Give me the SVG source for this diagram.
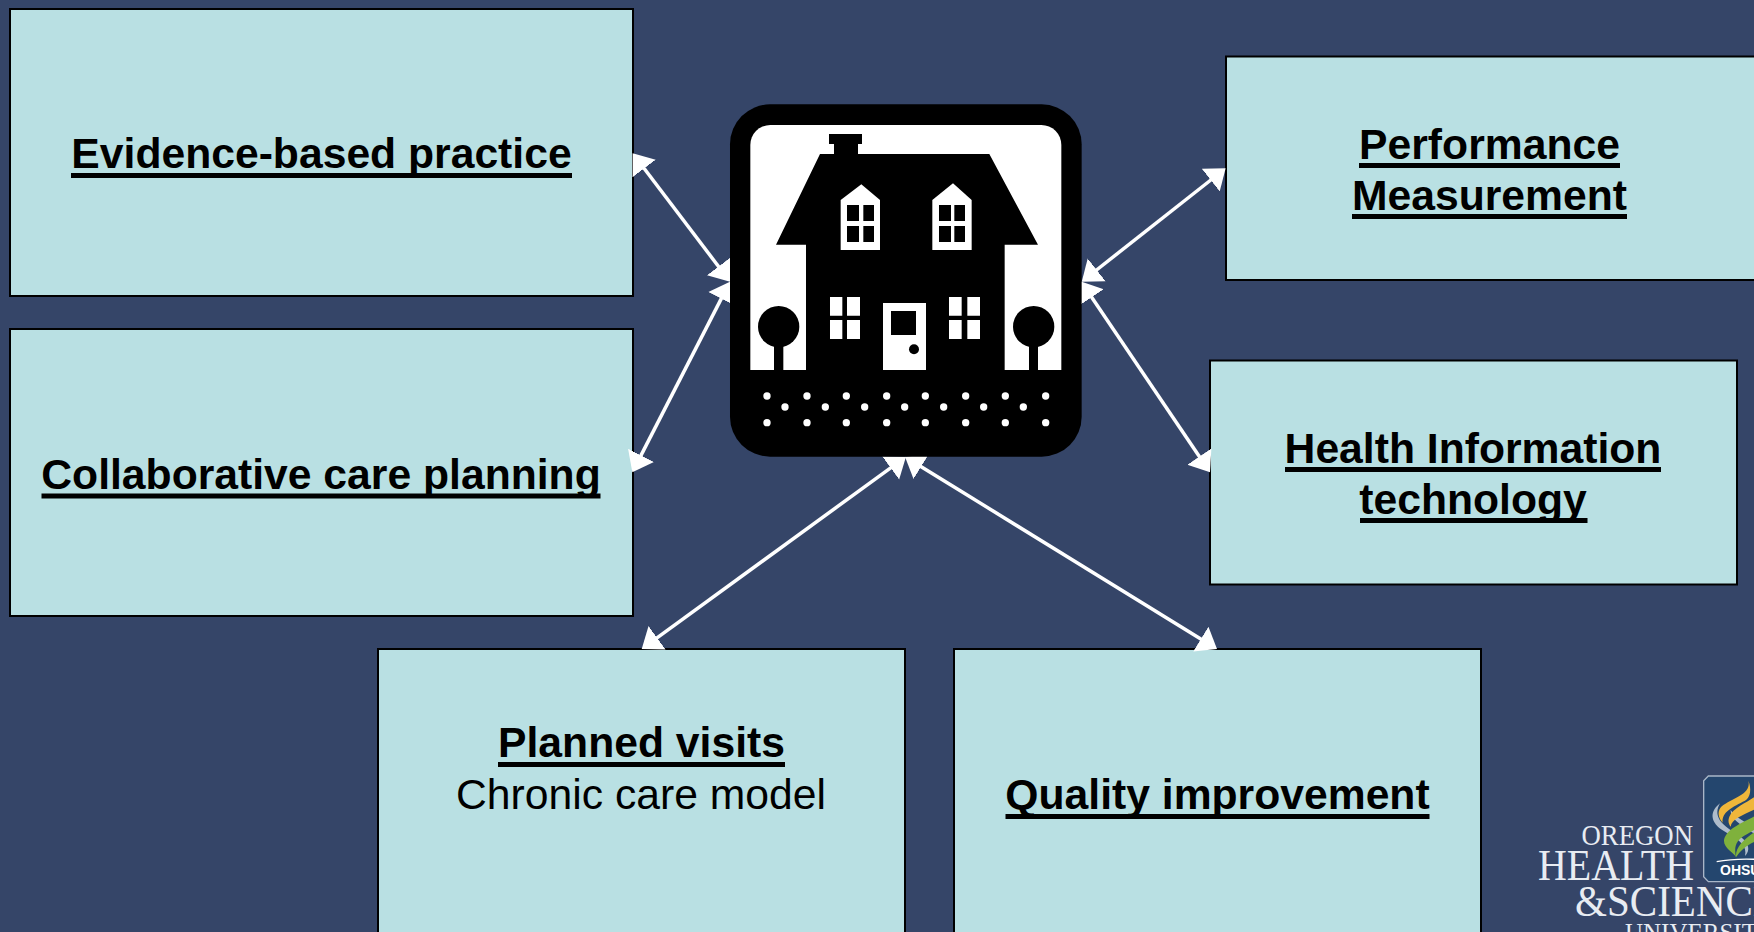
<svg xmlns="http://www.w3.org/2000/svg" width="1754" height="932" viewBox="0 0 1754 932">
<style>
.box{fill:#b9e0e3;stroke:#000;stroke-width:2}
.t{font-family:"Liberation Sans",Arial,sans-serif;font-size:42.67px;fill:#000;text-anchor:middle}
.b{font-weight:700}
.u{fill:#000}
.c{fill:none;stroke:#fff;stroke-width:3.5;marker-start:url(#ah);marker-end:url(#ah)}
.w{fill:#fff}
.k{fill:#000}
.l{font-family:"Liberation Serif","Times New Roman",serif;fill:#e8ecf2}
</style>
<defs>
<marker id="ah" markerUnits="userSpaceOnUse" markerWidth="20" markerHeight="30" viewBox="0 0 20 30" refX="9" refY="15" orient="auto-start-reverse"><polygon points="0,0.500 19,15 0,29.500" fill="#fff"/></marker>
</defs>
<rect width="1754" height="932" fill="#354568"/>
<g id="node-evidence"><rect class="box" x="10" y="9" width="623" height="287"/><text class="t b" x="321.500" y="168">Evidence-based practice</text><rect class="u" x="71" y="173" width="501" height="5"/></g>
<g id="node-collab"><rect class="box" x="10" y="329" width="623" height="287"/><text class="t b" x="321" y="489">Collaborative care planning</text><rect class="u" x="41.500" y="493.500" width="559" height="5"/></g>
<g id="node-planned"><rect class="box" x="378" y="649" width="527" height="300"/><text class="t b" x="641.500" y="757">Planned visits</text><rect class="u" x="498" y="762" width="287" height="5"/><text class="t" x="641" y="809">Chronic care model</text></g>
<g id="node-quality"><rect class="box" x="954" y="649" width="527" height="300"/><text class="t b" x="1217.500" y="809">Quality improvement</text><rect class="u" x="1005.500" y="814" width="424" height="5"/></g>
<g id="node-performance"><rect class="box" x="1226" y="56.500" width="540" height="223.500"/><text class="t b" x="1489.500" y="159">Performance</text><rect class="u" x="1359" y="163" width="261" height="5"/><text class="t b" x="1489.500" y="210">Measurement</text><rect class="u" x="1352" y="214" width="275" height="5"/></g>
<g id="node-hit"><rect class="box" x="1210" y="360.500" width="527" height="224"/><text class="t b" x="1473" y="463">Health Information</text><rect class="u" x="1285" y="467" width="376" height="5"/><text class="t b" x="1473" y="514">technology</text><rect class="u" x="1360" y="518" width="227.500" height="5"/></g>
<g id="connectors">
<path class="c" d="M638.700 161.300L724 273.700"/>
<path class="c" d="M636.900 463.400L725.400 290.600"/>
<path class="c" d="M1217.800 174.500L1089.600 275.500"/>
<path class="c" d="M1204.400 464L1086.600 289.800"/>
<path class="c" d="M649.800 643.100L897.900 462.600"/>
<path class="c" d="M1208.500 643.800L913.500 461.900"/>
</g>
<g id="node-house" transform="translate(720 90) scale(0.33333)">
<rect class="k" x="30" y="43" width="1055" height="1057" rx="120"/>
<path class="w" d="M91 840V165A60 60 0 0 1 151 105H964A60 60 0 0 1 1024 165V840Z"/>
<path class="k" d="M327 132H426V162H414V192H808L954 464H854V840H258V464H168L300 192H342V162H327Z"/>
<path class="w" d="M362 330L424 283L480 330V480H362Z"/>
<path class="k" d="M381 345H417V393H381ZM430 345H462V393H430ZM381 408H417V456H381ZM430 408H462V456H430Z"/>
<path class="w" d="M637 330L699 280L755 330V480H637Z"/>
<path class="k" d="M657 345H693V393H657ZM703 345H735V393H703ZM657 408H693V456H657ZM703 408H735V456H703Z"/>
<path class="w" d="M330 621H367V677H330ZM381 621H420V677H381ZM330 690H367V747H330ZM381 690H420V747H381Z"/>
<path class="w" d="M687 621H725V677H687ZM742 621H780V677H742ZM687 690H725V747H687ZM742 690H780V747H742Z"/>
<rect class="w" x="489" y="639" width="129" height="201"/>
<rect class="k" x="513" y="663" width="75" height="72"/>
<circle class="k" cx="582" cy="778" r="15"/>
<circle class="k" cx="176" cy="710" r="62"/><rect class="k" x="162" y="750" width="28" height="90"/>
<circle class="k" cx="941" cy="710" r="62"/><rect class="k" x="927" y="750" width="27" height="90"/>
<g class="w">
<circle cx="141" cy="918" r="11"/><circle cx="261" cy="918" r="11"/><circle cx="379" cy="918" r="11"/><circle cx="500" cy="918" r="11"/><circle cx="616" cy="918" r="11"/><circle cx="737" cy="918" r="11"/><circle cx="856" cy="918" r="11"/><circle cx="977" cy="918" r="11"/>
<circle cx="195" cy="951" r="11"/><circle cx="316" cy="951" r="11"/><circle cx="434" cy="951" r="11"/><circle cx="554" cy="951" r="11"/><circle cx="671" cy="951" r="11"/><circle cx="791" cy="951" r="11"/><circle cx="910" cy="951" r="11"/>
<circle cx="141" cy="998" r="11"/><circle cx="261" cy="998" r="11"/><circle cx="379" cy="998" r="11"/><circle cx="500" cy="998" r="11"/><circle cx="616" cy="998" r="11"/><circle cx="737" cy="998" r="11"/><circle cx="856" cy="998" r="11"/><circle cx="977" cy="998" r="11"/>
</g>
</g>
<g id="logo">
<g transform="translate(1500 760) scale(0.33333)">
<path d="M625 48H780V365H625L611 350V62Z" fill="#24466e" stroke="#a9b6c8" stroke-width="4"/>
<path d="M660 130C622 160 635 195 680 218C720 240 742 258 735 288C760 262 735 235 695 212C660 190 640 165 660 130Z" fill="#aebccb"/>
<path d="M692 150C690 175 720 195 770 225L770 205C730 185 705 170 692 150Z" fill="#aebccb"/>
<path d="M745 62C755 100 705 112 670 135C648 150 655 175 668 188C664 155 700 140 735 122C752 112 755 85 745 62Z" fill="#efb63a"/>
<path d="M770 105C750 125 700 140 688 170C682 185 688 195 692 200C695 175 730 165 770 145Z" fill="#efb63a"/>
<path d="M770 165C725 190 680 205 672 240C670 265 700 275 708 292C702 262 705 240 742 222L770 205Z" fill="#7fb13c"/>
<path d="M770 212C735 235 705 260 708 292C720 272 740 255 770 242Z" fill="#7fb13c"/>
<path d="M650 305Q700 295 770 298" fill="none" stroke="#fff" stroke-width="4"/>
</g>
<text x="1720" y="875" font-family="'Liberation Sans',Arial,sans-serif" font-weight="700" font-size="14" fill="#fff">OHSU</text>
<text class="l" x="1581.500" y="845" font-size="30" textLength="111.500" lengthAdjust="spacingAndGlyphs">OREGON</text>
<text class="l" x="1538" y="880" font-size="44" textLength="156" lengthAdjust="spacingAndGlyphs">HEALTH</text>
<text class="l" x="1575" y="916" font-size="44" textLength="203" lengthAdjust="spacingAndGlyphs">&amp;SCIENCE</text>
<text class="l" x="1625" y="941" font-size="25">UNIVERSITY</text>
</g>
</svg>
